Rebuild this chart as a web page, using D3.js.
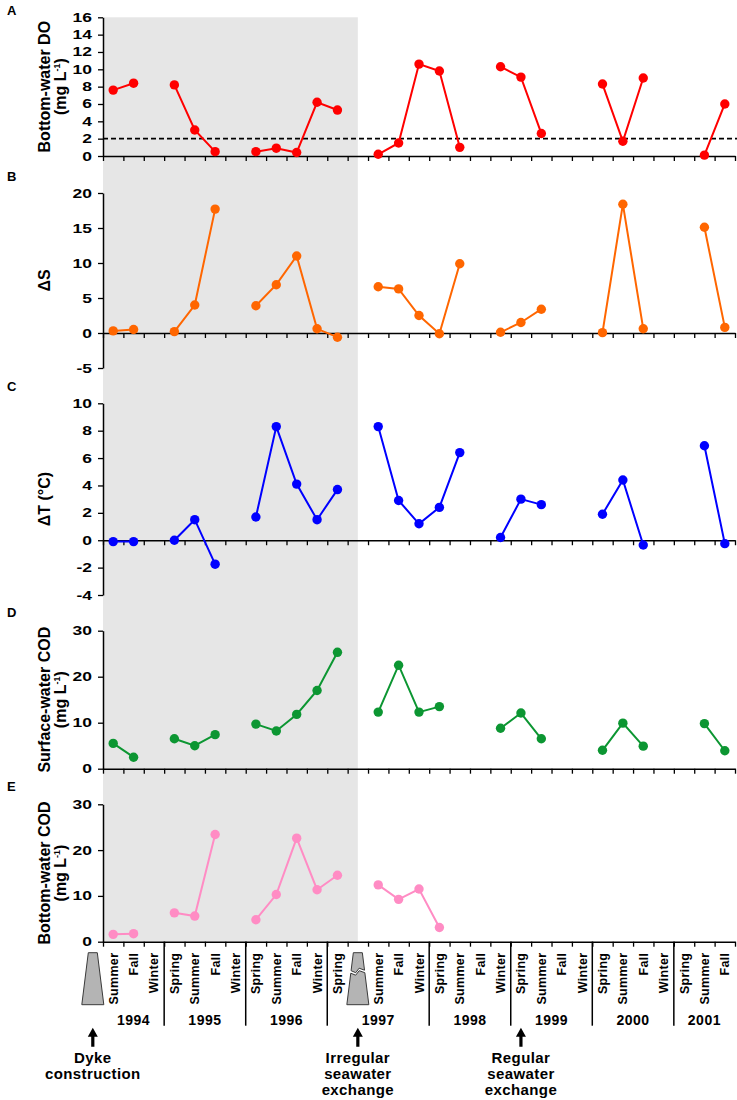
<!DOCTYPE html>
<html>
<head>
<meta charset="utf-8">
<script src="https://cdn.jsdelivr.net/npm/d3@7"></script>
<style>
  body { margin: 0; background: #fff; }
  svg text { font-family: Arial, "Liberation Sans", sans-serif; font-weight: bold; fill: #000; }
</style>
</head>
<body>
<div id="chart"></div>
<script>
// x slots: one per season, the empty one in 1997 holds the broken-dyke icon
const seasons = ["Summer","Fall","Winter",
  "Spring","Summer","Fall","Winter",
  "Spring","Summer","Fall","Winter",
  "Spring","","Summer","Fall","Winter",
  "Spring","Summer","Fall","Winter",
  "Spring","Summer","Fall","Winter",
  "Spring","Summer","Fall","Winter",
  "Spring","Summer","Fall"];
const years = [1994,1994,1994,
  1995,1995,1995,1995,
  1996,1996,1996,1996,
  1997,1997,1997,1997,1997,
  1998,1998,1998,1998,
  1999,1999,1999,1999,
  2000,2000,2000,2000,
  2001,2001,2001];

// series (null = no sample)
const bottomDO = [7.6, 8.4, null, 8.2, 3.0, 0.5, null, 0.5, 0.9, 0.4, 6.2, 5.3, null,
  0.2, 1.5, 10.6, 9.8, 1.0, null, 10.3, 9.1, 2.6, null, null, 8.3, 1.7, 9.0, null, null, 0.1, 6.0];
const deltaS = [0.3, 0.5, null, 0.2, 4.0, 17.7, null, 3.9, 6.9, 11.0, 0.6, -0.6, null,
  6.6, 6.3, 2.5, -0.1, 9.9, null, 0.1, 1.5, 3.4, null, null, 0.05, 18.4, 0.6, null, null, 15.1, 0.8];
const deltaT = [-0.1, -0.1, null, 0.0, 1.5, -1.75, null, 1.7, 8.3, 4.1, 1.5, 3.7, null,
  8.3, 2.9, 1.2, 2.4, 6.4, null, 0.2, 3.0, 2.6, null, null, 1.9, 4.4, -0.35, null, null, 6.9, -0.25];
const surfaceCOD = [5.5, 2.5, null, 6.5, 5.0, 7.4, null, 9.7, 8.2, 11.8, 17.0, 25.3, null,
  12.3, 22.5, 12.3, 13.5, null, null, 8.8, 12.1, 6.5, null, null, 4.0, 9.9, 4.9, null, null, 9.8, 3.9];
const bottomCOD = [1.6, 1.75, null, 6.3, 5.6, 23.4, null, 4.8, 10.3, 22.6, 11.35, 14.5, null,
  12.4, 9.25, 11.5, 3.1, null, null, null, null, null, null, null, null, null, null, null, null, null, null];

const yDomains = [[0, 16], [-5, 20], [-4, 10], [0, 30], [0, 30]];
const yTicks = [[0,2,4,6,8,10,12,14,16], [-5,0,5,10,15,20], [-4,-2,0,2,4,6,8,10], [0,10,20,30], [0,10,20,30]];
const letters = ["A","B","C","D","E"];
// "^" marks the superscript part of a unit
const labels = [["Bottom-water DO","(mg L^-1^)"], ["ΔS"], ["ΔT (°C)"],
  ["Surface-water COD","(mg L^-1^)"], ["Bottom-water COD","(mg L^-1^)"]];
const thresholdDO = 2;
const shadedUntil = 12;   // slot centre where the grey (closed dyke) period ends

const events = [
  {slot: -1, lines: ["Dyke","construction"]},
  {slot: 12, lines: ["Irregular","seawater","exchange"]},
  {slot: 20, lines: ["Regular","seawater","exchange"]}
];
const dykes = [{slot: -1, broken: false}, {slot: 12, broken: true}];

const colors = ["#ff0000", "#ff6600", "#0000ff", "#0c9632", "#ff8cc4"];
const series = [bottomDO, deltaS, deltaT, surfaceCOD, bottomCOD];

// layout
const W = 737, H = 1100;
const boxes = [
  {top: 17.3, bottom: 156, letterY: 15},
  {top: 193, bottom: 368, letterY: 181},
  {top: 403.3, bottom: 595, letterY: 391},
  {top: 630.7, bottom: 768.7, letterY: 617},
  {top: 804.3, bottom: 941.7, letterY: 791}
];

const svg = d3.select("#chart").append("svg")
  .attr("width", W).attr("height", H);

const x = d3.scaleLinear().domain([0, seasons.length]).range([103, 735]);
const cx = i => x(i + 0.5);

// grey shading behind all panels
svg.append("rect")
  .attr("x", x(0))
  .attr("y", boxes[0].top)
  .attr("width", cx(shadedUntil) - x(0))
  .attr("height", boxes[4].bottom - boxes[0].top)
  .attr("fill", "#e6e6e6");

function styleAxis(g) {
  g.selectAll("path.domain").attr("stroke", "#000").attr("stroke-width", 1.5);
  g.selectAll(".tick line").attr("stroke", "#000").attr("stroke-width", 1.3);
}

function addLabelText(sel, str) {
  const parts = str.split("^");
  sel.append("tspan").text(parts[0]);
  if (parts.length > 2) {
    sel.append("tspan").attr("dy", -6).attr("font-size", "9px").text(parts[1]);
    sel.append("tspan").attr("dy", 6).text(parts[2]);
  }
}

series.forEach((vals, k) => {
  const box = boxes[k];
  const y = d3.scaleLinear().domain(yDomains[k]).range([box.bottom, box.top]);
  const g = svg.append("g");

  // x axis at zero
  const xa = g.append("g")
    .attr("transform", `translate(0,${y(0)})`)
    .call(d3.axisBottom(x).tickValues(d3.range(0, seasons.length + 1))
      .tickSize(5).tickSizeOuter(0).tickFormat(""));
  styleAxis(xa);

  // y axis
  const ya = g.append("g")
    .attr("transform", `translate(${x(0)},0)`)
    .call(d3.axisLeft(y).tickValues(yTicks[k]).tickSize(5).tickSizeOuter(0)
      .tickFormat(d => String(d)));
  styleAxis(ya);
  const sx = 1.4;
  ya.selectAll(".tick text")
    .attr("font-size", "12.5px")
    .attr("font-family", "Arial, 'Liberation Sans', sans-serif")
    .attr("font-weight", "bold")
    .attr("fill", "#000")
    .attr("x", -11 / sx)
    .attr("transform", `scale(${sx},1)`);

  if (k === 0) {
    g.append("line")
      .attr("x1", x(0)).attr("x2", W)
      .attr("y1", y(thresholdDO)).attr("y2", y(thresholdDO))
      .attr("stroke", "#000").attr("stroke-width", 1.6)
      .attr("stroke-dasharray", "5,3");
  }

  const pts = vals.map((v, i) => ({i, v}));
  const line = d3.line()
    .defined(d => d.v !== null)
    .x(d => cx(d.i))
    .y(d => y(d.v));

  g.append("path")
    .datum(pts)
    .attr("d", line)
    .attr("fill", "none")
    .attr("stroke", colors[k])
    .attr("stroke-width", 2);

  g.selectAll("circle")
    .data(pts.filter(d => d.v !== null))
    .enter()
    .append("circle")
    .attr("cx", d => cx(d.i))
    .attr("cy", d => y(d.v))
    .attr("r", 4.7)
    .attr("fill", colors[k]);

  // rotated axis title
  const mid = (box.top + box.bottom) / 2;
  labels[k].forEach((str, j) => {
    const t = g.append("text")
      .attr("transform", `translate(${50 + j * 16},${mid}) rotate(-90)`)
      .attr("text-anchor", "middle")
      .attr("font-size", "16px");
    addLabelText(t, str);
  });

  g.append("text")
    .attr("x", 7).attr("y", box.letterY)
    .attr("font-size", "13px")
    .text(letters[k]);
});

// bottom time axis: season labels, year blocks
const axisY = boxes[4].bottom;
const seasonG = svg.append("g");
seasons.forEach((s, i) => {
  if (!s) return;
  seasonG.append("text")
    .attr("transform", `translate(${cx(i) + 4.5},${axisY + 11}) rotate(-90)`)
    .attr("text-anchor", "end")
    .attr("font-size", "12.5px")
    .attr("letter-spacing", "0.3px")
    .text(s);
});

const yearBlocks = d3.groups(years.map((yr, i) => ({yr, i})), d => d.yr)
  .map(([yr, arr]) => ({yr, first: arr[0].i, last: arr[arr.length - 1].i}));

svg.selectAll("line.year")
  .data(yearBlocks.filter(b => b.first > 0))
  .enter()
  .append("line")
  .attr("class", "year")
  .attr("x1", d => x(d.first)).attr("x2", d => x(d.first))
  .attr("y1", axisY).attr("y2", axisY + 84)
  .attr("stroke", "#000").attr("stroke-width", 1.5);

svg.selectAll("text.year")
  .data(yearBlocks)
  .enter()
  .append("text")
  .attr("class", "year")
  .attr("x", d => (x(d.first) + x(d.last + 1)) / 2)
  .attr("y", axisY + 83)
  .attr("text-anchor", "middle")
  .attr("font-size", "14px")
  .attr("letter-spacing", "0.5px")
  .text(d => d.yr);

// dyke icons
const dTop = axisY + 11, dBot = axisY + 63;
const hw = yy => 4.5 + (yy - dTop) / (dBot - dTop) * 6.5;
dykes.forEach(d => {
  const c = cx(d.slot);
  const icon = svg.append("g");
  const style = p => p.attr("fill", "#b4b4b4").attr("stroke", "#3a3a3a").attr("stroke-width", 1);
  if (!d.broken) {
    style(icon.append("path").attr("d",
      `M${c - hw(dTop)},${dTop}L${c + hw(dTop)},${dTop}L${c + hw(dBot)},${dBot}L${c - hw(dBot)},${dBot}Z`));
  } else {
    const crack = [[0, 19], [0.35, 21], [0.6, 16.5], [1, 18.5]];
    const edge = (off) => crack.map(([t, dy]) => {
      const yy = dTop + dy + off;
      return [c - hw(yy) + t * 2 * hw(yy), yy];
    });
    const upper = edge(-1);
    const lower = edge(1.5);
    let p1 = `M${c - hw(dTop)},${dTop}L${c + hw(dTop)},${dTop}`;
    upper.slice().reverse().forEach(q => { p1 += `L${q[0]},${q[1]}`; });
    style(icon.append("path").attr("d", p1 + "Z"));
    let p2 = `M${lower[0][0]},${lower[0][1]}`;
    lower.slice(1).forEach(q => { p2 += `L${q[0]},${q[1]}`; });
    p2 += `L${c + hw(dBot)},${dBot}L${c - hw(dBot)},${dBot}Z`;
    style(icon.append("path").attr("d", p2));
  }
});

// event arrows and notes
events.forEach(e => {
  const c = cx(e.slot);
  const tip = axisY + 86;
  const g = svg.append("g");
  g.append("path")
    .attr("d", `M${c},${tip}L${c + 5},${tip + 9}L${c + 1.6},${tip + 9}L${c + 1.6},${tip + 19}` +
      `L${c - 1.6},${tip + 19}L${c - 1.6},${tip + 9}L${c - 5},${tip + 9}Z`)
    .attr("fill", "#000");
  e.lines.forEach((l, j) => {
    g.append("text")
      .attr("x", c).attr("y", tip + 35 + j * 16)
      .attr("text-anchor", "middle")
      .attr("font-size", "15px")
      .attr("letter-spacing", "0.4px")
      .text(l);
  });
});
</script>
</body>
</html>
